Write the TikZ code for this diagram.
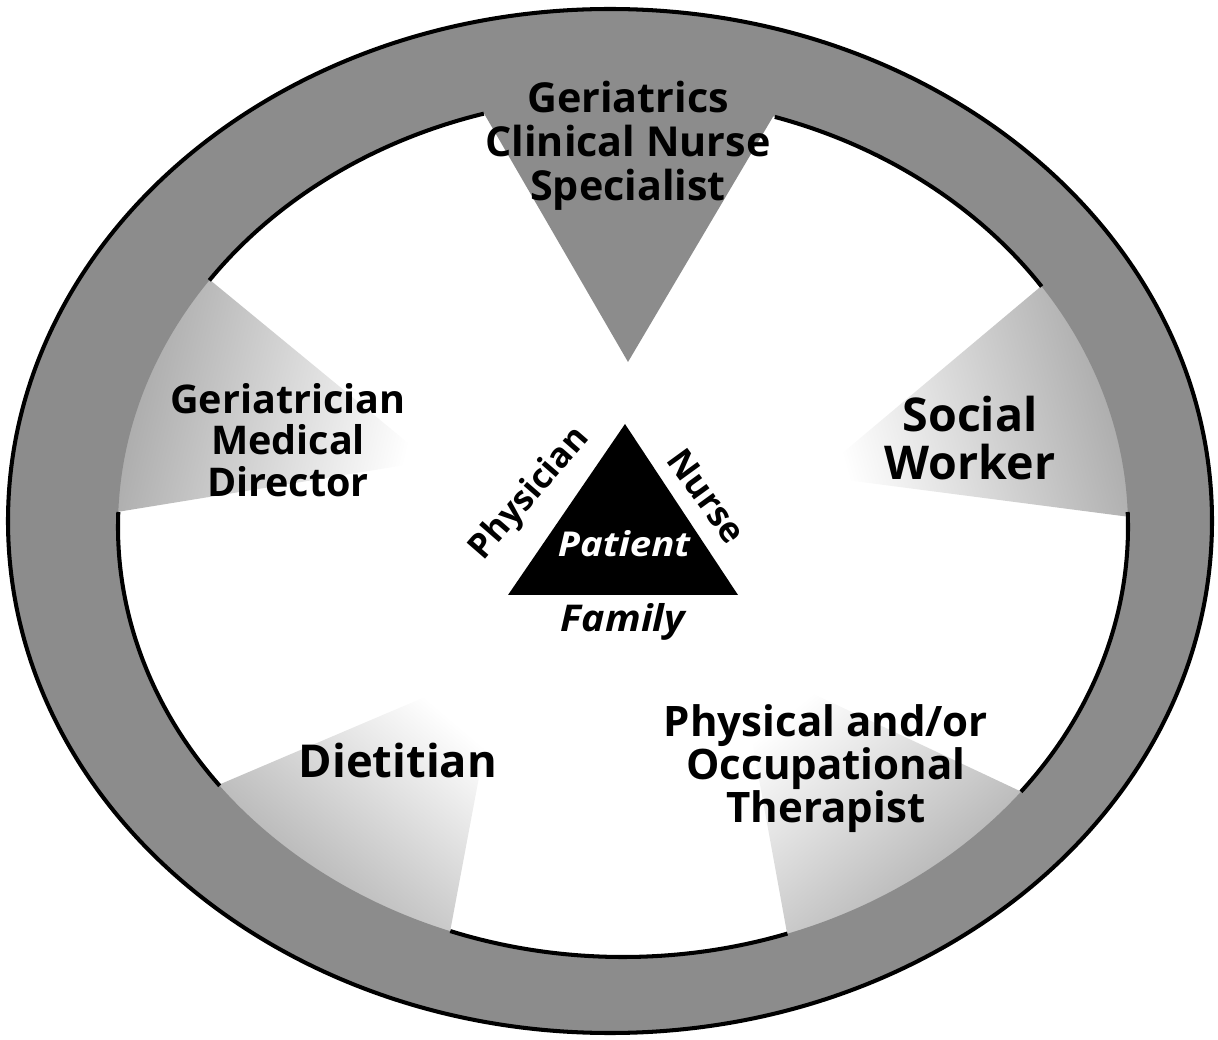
\documentclass[tikz,border=0pt]{standalone}
\usepackage{fontspec}
\setmainfont{Open Sans}
\usepackage{tikz}
\usetikzlibrary{calc}
\definecolor{ringgray}{gray}{0.55}

\begin{document}
\begin{tikzpicture}[x=0.02cm, y=-0.02cm,
    % One line weight for the rims
    rim/.style={line width=2.3pt},
    % Default style for nodes
    every node/.style={inner sep=0pt, align=center},
    role/.style 2 args={font=\fontsize{#1}{#2}\selectfont\bfseries}
  ]
  % --- Dimensions of the ring (picture pixels, y going down) ---
  \def\Ox{610}  \def\Oy{521}   % centre of outer rim
  \def\Orx{602} \def\Ory{512}  % outer radii
  \def\Ix{623}  \def\Iy{527}   % centre of inner rim
  \def\Irx{505} \def\Iry{430}  % inner radii

  % --- Style for the fading spokes ---
  \tikzstyle{spoke fade}=[top color=white, bottom color=ringgray]

  \useasboundingbox (0,0) rectangle (1218,1040);

  % --- Tips of the spokes and where they meet the inner rim ---
  \coordinate (tipT) at (628,362); \coordinate (rimT1) at (482,110); \coordinate (rimT2) at (777,110);
  \coordinate (tipL) at (430,461); \coordinate (rimL1) at (210,280); \coordinate (rimL2) at (117,512);
  \coordinate (tipR) at (815,476); \coordinate (rimR1) at (1045,283); \coordinate (rimR2) at (1130,517);
  \coordinate (tipD) at (500,665); \coordinate (rimD1) at (223,783); \coordinate (rimD2) at (450,932);
  \coordinate (tipP) at (737,658); \coordinate (rimP1) at (787,933); \coordinate (rimP2) at (1022,792);

  % --- Spokes ---
  \begin{scope}
    \clip (\Ox,\Oy) ellipse [x radius=\Orx, y radius=\Ory];
    \fill[ringgray] (tipT) -- ($(tipT)!1.3!(rimT1)$) -- ($(tipT)!1.3!(rimT2)$) -- cycle;
    \shade[spoke fade, shading angle=-103.7] (tipL) -- ($(tipL)!1.3!(rimL1)$) -- ($(tipL)!1.3!(rimL2)$) -- cycle;
    \shade[spoke fade, shading angle=105.6] (tipR) -- ($(tipR)!1.3!(rimR1)$) -- ($(tipR)!1.3!(rimR2)$) -- cycle;
    \shade[spoke fade, shading angle=-40.3] (tipD) -- ($(tipD)!1.3!(rimD1)$) -- ($(tipD)!1.3!(rimD2)$) -- cycle;
    \shade[spoke fade, shading angle=39.3] (tipP) -- ($(tipP)!1.3!(rimP1)$) -- ($(tipP)!1.3!(rimP2)$) -- cycle;
  \end{scope}

  % --- Ring ---
  \fill[ringgray, even odd rule] (\Ox,\Oy) ellipse [x radius=\Orx, y radius=\Ory]
      (\Ix,\Iy) ellipse [x radius=\Irx, y radius=\Iry];
  \draw[rim] (\Ox,\Oy) ellipse [x radius=\Orx, y radius=\Ory];
  % inner rim, broken where the spokes come in
  \foreach \a/\b in {215/254, -72.5/-34, -2/38, 71/110, 143/182}
    \draw[rim] ([shift={(\a:505 and 430)}]\Ix,\Iy) arc [start angle=\a, end angle=\b, x radius=\Irx, y radius=\Iry];

  % --- Team members ---
  \node[role={23.5}{25}] (cns) at (628,146) {Geriatrics\\Clinical Nurse\\Specialist};
  \node[role={22.5}{23.5}] (ger) at (288,440) {Geriatrician\\Medical\\Director};
  \node[role={26.5}{27.2}] (sw) at (970,438) {Social\\Worker};
  \node[role={25.8}{27}, anchor=base] (diet) at (398,777) {Dietitian};
  \node[role={23.9}{24.4}] (ptot) at (826,768.5) {Physical and/or\\Occupational\\Therapist};

  % --- Centre triangle ---
  \coordinate (triTop) at (625,424);
  \coordinate (triLeft) at (508,595);
  \coordinate (triRight) at (738,595);
  \fill (triTop) -- (triLeft) -- (triRight) -- cycle;
  \node[anchor=base, text=white, font=\fontsize{19.5}{21}\selectfont\bfseries\itshape] (patient) at (624,557) {\scalebox{1.12}[1]{Patient}};
  \node[anchor=base, font=\fontsize{21}{23}\selectfont\bfseries\itshape] (family) at (623,632) {\scalebox{1.07}[1]{Family}};
  \node[rotate=49, font=\fontsize{19.5}{21}\selectfont\bfseries] (physician) at (530,494) {Physician};
  \node[rotate=-54, font=\fontsize{20}{22}\selectfont\bfseries] (nurse) at (707,496) {Nurse};
\end{tikzpicture}
\end{document}
